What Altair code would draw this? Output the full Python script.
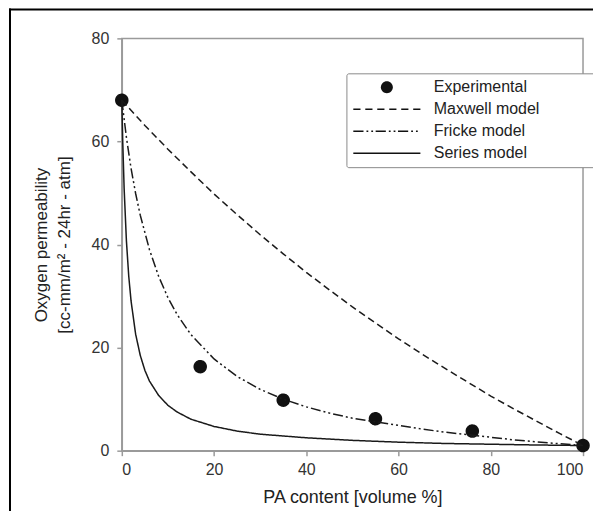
import altair as alt
import pandas as pd

# ---- data ----
series_names = ["Experimental", "Maxwell model", "Fricke model", "Series model"]

exp_x = [0, 17, 35, 55, 76, 100]
exp_y = [68, 16.3, 9.8, 6.2, 3.8, 1.0]

maxwell_x = [0, 5, 10, 15, 20, 25, 30, 35, 40, 45, 50, 55, 60, 65, 70, 75, 80, 85, 90, 95, 100]
maxwell_y = [68, 63.1, 58.5, 54.1, 49.8, 45.8, 41.9, 38.2, 34.6, 31.2, 27.9, 24.8, 21.7, 18.8,
             16.0, 13.3, 10.6, 8.1, 5.7, 3.3, 1.0]

fricke_x = [0, 1, 2, 3, 4, 6, 8, 10, 12, 15, 20, 25, 30, 35, 40, 45, 50, 55, 60, 65, 70, 75,
            80, 85, 90, 95, 100]
fricke_y = [68, 60.8, 54.8, 49.9, 45.7, 39.0, 33.8, 29.7, 26.4, 22.5, 17.8, 14.4, 11.9, 10.0,
            8.5, 7.3, 6.3, 5.6, 4.9, 4.2, 3.6, 3.1, 2.6, 2.1, 1.7, 1.35, 1.0]

series_x = [0, 0.2, 0.5, 1, 1.5, 2, 3, 4, 5, 6, 8, 10, 12, 15, 20, 25, 30, 40, 50, 60, 70, 80, 90, 100]
series_y = [68, 60, 51, 40.7, 33.9, 29.1, 22.6, 18.5, 15.6, 13.5, 10.7, 8.8, 7.5, 6.1, 4.7, 3.8,
            3.2, 2.5, 2.0, 1.65, 1.4, 1.25, 1.1, 1.0]

x_ticks = [0, 20, 40, 60, 80, 100]
y_ticks = [0, 20, 40, 60, 80]

# ---- tables ----
rows = []
for name, xs, ys in [("Maxwell model", maxwell_x, maxwell_y),
                     ("Fricke model", fricke_x, fricke_y),
                     ("Series model", series_x, series_y)]:
    rows += [{"series": name, "x": a, "y": b} for a, b in zip(xs, ys)]
lines_df = pd.DataFrame(rows)
exp_df = pd.DataFrame({"series": "Experimental", "x": exp_x, "y": exp_y})

FONT = "Liberation Sans"


# legend glyphs as filled SVG paths in Vega's symbol unit space (scaled by sqrt(size)/2)
def bars(segments, h=0.13):
    return " ".join(f"M {a} {-h} H {b} V {h} H {a} Z" for a, b in segments)


CIRCLE = "M -1 0 A 1 1 0 1 1 1 0 A 1 1 0 1 1 -1 0 Z"
DASHED = bars([(-5.6, -4.4), (-3.6, -2.4), (-1.6, -0.4), (0.4, 1.6), (2.4, 3.6), (4.4, 5.6)])
DASHDOT = bars([(-5.6, -3.9), (-3.4, -3.1), (-2.6, -2.3),
                (-1.87, -0.17), (0.33, 0.63), (1.13, 1.43),
                (1.86, 3.56), (4.06, 4.36), (4.86, 5.16)])
SOLID = bars([(-5.6, 5.6)])

dash_scale = alt.Scale(domain=series_names,
                       range=[[1, 0], [7, 4], [10, 3, 2, 3, 2, 3], [1, 0]])
shape_scale = alt.Scale(domain=series_names, range=[CIRCLE, DASHED, DASHDOT, SOLID])

x_enc = alt.X("x:Q", scale=alt.Scale(domain=[0, 100], nice=False),
              axis=alt.Axis(values=x_ticks, title="PA content [volume %]", grid=False,
                            labelPadding=6, titlePadding=11, titleFontSize=18))
y_enc = alt.Y("y:Q", scale=alt.Scale(domain=[0, 80], nice=False),
              axis=alt.Axis(values=y_ticks,
                            title=["Oxygen permeability", "[cc-mm/m² - 24hr - atm]"],
                            grid=False, labelPadding=8, titlePadding=18, titleLineHeight=23))

legend = alt.Legend(title="\u00a0", titleOrient="right", titlePadding=50, titleFontSize=16,
                    orient="none", legendX=225, legendY=35, direction="vertical",
                    padding=6, strokeColor="#8a8a8a", fillColor="white", cornerRadius=2,
                    symbolSize=144, symbolOffset=26.5, rowPadding=6, labelOffset=39,
                    labelFontSize=16, labelFont=FONT, labelColor="#222", labelLimit=300,
                    symbolStrokeColor="#111", symbolFillColor="#111",
                    symbolStrokeWidth=1, symbolOpacity=1)

points = alt.Chart(exp_df).mark_point(filled=False, color="#111", fill="#111", fillOpacity=1,
                                      strokeWidth=1.5, size=144, opacity=1).encode(
    x=x_enc, y=y_enc,
    shape=alt.Shape("series:N", scale=shape_scale, legend=legend),
    strokeDash=alt.StrokeDash("series:N", scale=dash_scale, legend=legend),
)

lines = alt.Chart(lines_df).mark_line(color="#1a1a1a", strokeWidth=1.5).encode(
    x=x_enc, y=y_enc,
    strokeDash=alt.StrokeDash("series:N", scale=dash_scale, legend=legend),
)

# decorative outer frame (left and top edges of the original figure box)
frame_left = alt.Chart(alt.Data(values=[{}])).mark_rule(color="black", strokeWidth=2).encode(
    x=alt.value(-112), y=alt.value(-30), y2=alt.value(480))
frame_top = alt.Chart(alt.Data(values=[{}])).mark_rule(color="black", strokeWidth=2).encode(
    y=alt.value(-29), x=alt.value(-113), x2=alt.value(480))

chart = alt.layer(points, lines, frame_left, frame_top).properties(
    width=462, height=413, autosize="none", background="white",
    padding={"left": 114, "top": 30, "right": 10, "bottom": 60},
).configure_axis(
    labelFont=FONT, titleFont=FONT, labelFontSize=16, titleFontSize=17,
    labelColor="#333", titleColor="#222", titleFontWeight="normal",
    domainColor="#9a9a9a", tickColor="#9a9a9a", domainWidth=1.5, tickWidth=1.5, tickSize=5,
).configure_view(stroke="#9a9a9a", strokeWidth=1.5)

chart.save("out.html", embed_options={"renderer": "svg", "actions": False})
